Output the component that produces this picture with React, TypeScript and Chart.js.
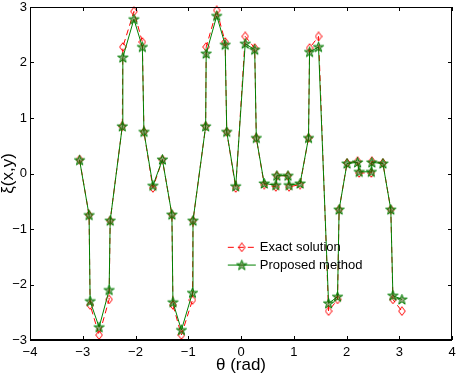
import React, { useEffect, useRef } from "react";
import { Chart, registerables } from "chart.js";

Chart.register(...registerables);

const theta = [-3.06, -2.88, -2.86, -2.69, -2.5, -2.48, -2.25, -2.24, -2.03, -1.87, -1.84, -1.67, -1.49, -1.31, -1.29, -1.13, -0.92, -0.91, -0.67, -0.66, -0.46, -0.3, -0.27, -0.1, 0.08, 0.26, 0.29, 0.44, 0.66, 0.68, 0.89, 0.91, 1.12, 1.28, 1.3, 1.47, 1.66, 1.83, 1.86, 2.01, 2.21, 2.24, 2.47, 2.48, 2.69, 2.84, 2.88, 3.05];
const exactSolution = [0.25, -0.75, -2.37, -2.91, -2.27, -0.85, 0.85, 2.28, 2.92, 2.37, 0.75, -0.26, 0.25, -0.74, -2.37, -2.91, -2.28, -0.85, 0.85, 2.28, 2.94, 2.37, 0.75, -0.26, 2.47, 2.26, 0.64, -0.2, -0.24, -0.04, -0.04, -0.24, -0.2, 0.64, 2.26, 2.47, -2.48, -2.27, -0.65, 0.19, 0.22, 0.01, 0.01, 0.22, 0.19, -0.65, -2.27, -2.48];
const proposedMethod = [0.24, -0.75, -2.3, -2.77, -2.1, -0.85, 0.85, 2.09, 2.78, 2.28, 0.75, -0.22, 0.25, -0.74, -2.32, -2.82, -2.15, -0.85, 0.85, 2.16, 2.84, 2.32, 0.75, -0.23, 2.34, 2.23, 0.64, -0.18, -0.21, -0.04, -0.04, -0.21, -0.18, 0.64, 2.19, 2.28, -2.34, -2.22, -0.65, 0.18, 0.2, 0.03, 0.03, 0.2, 0.18, -0.65, -2.2, -2.27];
const seriesLabels = ["Exact solution", "Proposed method"];
const xRange = [-4, 4];
const yRange = [-3, 3];
const xTitle = "θ (rad)";
const yTitle = "ξ(x,y)";

const FONT = "'Liberation Sans', Arial, sans-serif";

function makeDiamond(): HTMLCanvasElement {
  const c = document.createElement("canvas");
  c.width = 8;
  c.height = 10;
  const g = c.getContext("2d")!;
  g.strokeStyle = "#ff0000";
  g.lineWidth = 1;
  g.beginPath();
  g.moveTo(4, 0.7);
  g.lineTo(7.3, 5);
  g.lineTo(4, 9.3);
  g.lineTo(0.7, 5);
  g.closePath();
  g.stroke();
  return c;
}

function makeStar(): HTMLCanvasElement {
  const c = document.createElement("canvas");
  c.width = 13;
  c.height = 13;
  const g = c.getContext("2d")!;
  const cx = 6.5, cy = 6.8, ro = 5.4, ri = 2.1;
  g.beginPath();
  for (let i = 0; i < 10; i++) {
    const r = i % 2 === 0 ? ro : ri;
    const a = -Math.PI / 2 + (i * Math.PI) / 5;
    const px = cx + r * Math.cos(a);
    const py = cy + r * Math.sin(a);
    if (i === 0) g.moveTo(px, py);
    else g.lineTo(px, py);
  }
  g.closePath();
  g.fillStyle = "rgba(50,80,0,0.5)";
  g.fill();
  g.strokeStyle = "#008000";
  g.lineWidth = 1;
  g.stroke();
  return c;
}

const frameAndLegend = {
  id: "frameAndLegend",
  afterDatasetsDraw(chart: any) {
    const { ctx, chartArea, scales } = chart;
    const { left, right, top, bottom } = chartArea;
    ctx.save();
    ctx.strokeStyle = "#000";
    ctx.lineWidth = 1;
    ctx.setLineDash([]);
    ctx.beginPath();
    ctx.moveTo(left + 0.5, top + 0.5);
    ctx.lineTo(right - 0.5, top + 0.5);
    ctx.lineTo(right - 0.5, bottom);
    ctx.moveTo(left + 0.5, top + 0.5);
    ctx.lineTo(left + 0.5, bottom);
    ctx.stroke();
    ctx.lineWidth = 2;
    ctx.beginPath();
    ctx.moveTo(left, bottom);
    ctx.lineTo(right, bottom);
    ctx.stroke();
    ctx.lineWidth = 1;
    ctx.beginPath();
    scales.x.ticks.forEach((t: any) => {
      const x = Math.round(scales.x.getPixelForValue(t.value)) + 0.5;
      ctx.moveTo(x, bottom);
      ctx.lineTo(x, bottom - 4);
      ctx.moveTo(x, top);
      ctx.lineTo(x, top + 4);
    });
    scales.y.ticks.forEach((t: any) => {
      const y = Math.round(scales.y.getPixelForValue(t.value)) + 0.5;
      ctx.moveTo(left, y);
      ctx.lineTo(left + 4, y);
      ctx.moveTo(right, y);
      ctx.lineTo(right - 4, y);
    });
    ctx.stroke();

    const ds = chart.data.datasets;
    const x0 = scales.x.getPixelForValue(-0.25);
    const lineLen = 28;
    const rowY = [scales.y.getPixelForValue(-1.33), scales.y.getPixelForValue(-1.65)];
    ds.forEach((d: any, i: number) => {
      const y = rowY[i];
      ctx.strokeStyle = d.borderColor;
      ctx.lineWidth = 1;
      ctx.setLineDash(d.borderDash || []);
      ctx.beginPath();
      ctx.moveTo(x0, y);
      ctx.lineTo(x0 + lineLen, y);
      ctx.stroke();
      ctx.setLineDash([]);
      const img = d.pointStyle as HTMLCanvasElement;
      ctx.drawImage(img, x0 + lineLen / 2 - img.width / 2, y - img.height / 2);
      ctx.fillStyle = "#000";
      ctx.font = `13px ${FONT}`;
      ctx.textBaseline = "middle";
      ctx.textAlign = "left";
      ctx.fillText(d.label, x0 + lineLen + 4, y);
    });
    ctx.restore();
  },
};

export default function App() {
  const ref = useRef<HTMLCanvasElement>(null);
  useEffect(() => {
    document.body.style.margin = "0";
    const canvas = ref.current!;
    const diamond = makeDiamond();
    const star = makeStar();
    const minus = (v: any) => String(v).replace("-", "\u2212");
    const chart = new Chart(canvas, {
      type: "line",
      data: {
        datasets: [
          {
            label: seriesLabels[0],
            data: theta.map((t, i) => ({ x: t, y: exactSolution[i] })),
            borderColor: "#ff0000",
            borderWidth: 1,
            borderDash: [6, 4],
            pointStyle: diamond as any,
            pointRadius: 5,
            fill: false,
            tension: 0,
            order: 2,
            clip: false as any,
          },
          {
            label: seriesLabels[1],
            data: theta.map((t, i) => ({ x: t, y: proposedMethod[i] })),
            borderColor: "#008000",
            borderWidth: 1,
            pointStyle: star as any,
            pointRadius: 6,
            fill: false,
            tension: 0,
            order: 1,
            clip: false as any,
          },
        ],
      },
      options: {
        animation: false,
        responsive: false,
        devicePixelRatio: 1,
        layout: { padding: { top: 6, right: 8, left: 0, bottom: 0 } },
        plugins: { legend: { display: false }, tooltip: { enabled: false } },
        scales: {
          x: {
            type: "linear",
            min: xRange[0],
            max: xRange[1],
            grid: { display: false, drawTicks: false },
            border: { display: false },
            ticks: {
              stepSize: 1,
              autoSkip: false,
              maxRotation: 0,
              padding: 5,
              color: "#000",
              font: { family: FONT, size: 13 },
              callback: minus,
            },
            title: {
              display: true,
              text: xTitle,
              color: "#000",
              font: { family: FONT, size: 17, lineHeight: 1 },
              padding: { top: 0, bottom: 0 },
            },
            afterFit: (s: any) => {
              s.height = 34;
              s.paddingLeft = 0;
              s.paddingRight = 0;
            },
          },
          y: {
            type: "linear",
            min: yRange[0],
            max: yRange[1],
            grid: { display: false, drawTicks: false },
            border: { display: false },
            ticks: {
              stepSize: 1,
              autoSkip: false,
              padding: 3,
              color: "#000",
              font: { family: FONT, size: 13 },
              callback: minus,
            },
            title: {
              display: true,
              text: yTitle,
              color: "#000",
              font: { family: FONT, size: 17, lineHeight: 1 },
              padding: { top: 0, bottom: 0 },
            },
            afterFit: (s: any) => {
              s.width = 30;
              s.paddingTop = 0;
              s.paddingBottom = 0;
            },
          },
        },
      },
      plugins: [frameAndLegend],
    });
    return () => chart.destroy();
  }, []);
  return (
    <div style={{ width: 460, height: 374, background: "#fff" }}>
      <canvas ref={ref} width={460} height={374} style={{ display: "block" }} />
    </div>
  );
}
